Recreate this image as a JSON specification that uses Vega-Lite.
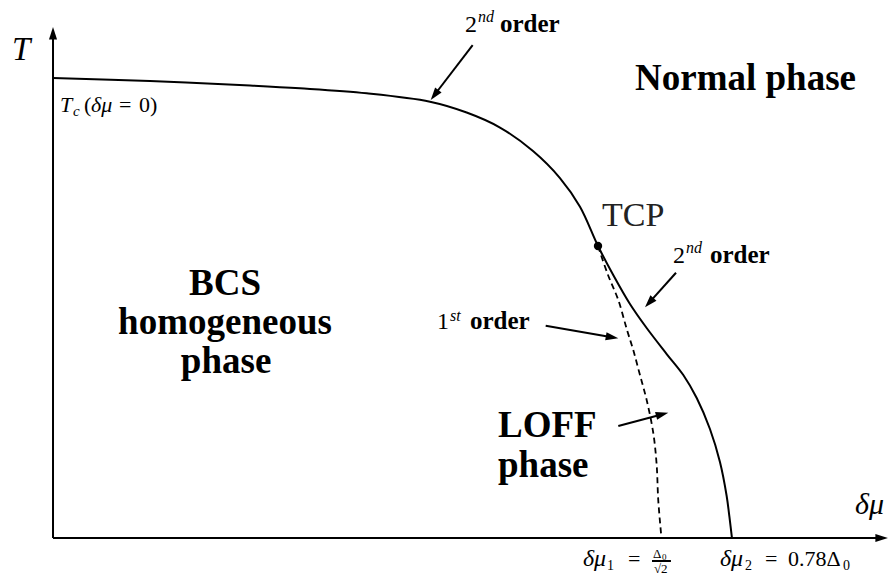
{
  "$schema": "https://vega.github.io/schema/vega-lite/v6.json",
  "width": 889,
  "height": 579,
  "padding": 0,
  "autosize": {"type": "fit", "contains": "padding"},
  "background": "white",
  "config": {"view": {"stroke": null}, "mark": {"clip": false}},
  "datasets": {
    "solid": [
      {"x": 0, "y": 1.0}, {"x": 0.1114, "y": 0.9935}, {"x": 0.2263, "y": 0.9837}, {"x": 0.2837, "y": 0.9776},
      {"x": 0.3604, "y": 0.9667}, {"x": 0.4331, "y": 0.9485}, {"x": 0.4752, "y": 0.925}, {"x": 0.5135, "y": 0.8924},
      {"x": 0.5514, "y": 0.8413}, {"x": 0.5824, "y": 0.7826}, {"x": 0.6054, "y": 0.7202},
      {"x": 0.6261, "y": 0.6348}, {"x": 0.6436, "y": 0.5717}, {"x": 0.6628, "y": 0.5087}, {"x": 0.682, "y": 0.4565},
      {"x": 0.705, "y": 0.4}, {"x": 0.7241, "y": 0.3543}, {"x": 0.7395, "y": 0.3043}, {"x": 0.7547, "y": 0.237},
      {"x": 0.7662, "y": 0.1652}, {"x": 0.7739, "y": 0.0913}, {"x": 0.7771, "y": 0.0457}, {"x": 0.78, "y": 0}
    ],
    "dashed": [
      {"x": 0.6261, "y": 0.6348}, {"x": 0.6376, "y": 0.5717}, {"x": 0.6494, "y": 0.5174}, {"x": 0.6594, "y": 0.4522},
      {"x": 0.6666, "y": 0.4087}, {"x": 0.6743, "y": 0.3543}, {"x": 0.682, "y": 0.3}, {"x": 0.6896, "y": 0.2283},
      {"x": 0.6935, "y": 0.1587}, {"x": 0.6953, "y": 0.0826}, {"x": 0.699, "y": 0}
    ],
    "tcp": [{"x": 0.6261, "y": 0.6348}],
    "shafts": [
      {"x": 0, "y": 0, "x2": 0, "y2": 1.0978},
      {"x": 0, "y": 0, "x2": 0.9523, "y2": 0},
      {"x": 0.4821, "y": 1.0717, "x2": 0.4373, "y2": 0.9609},
      {"x": 0.7157, "y": 0.5767, "x2": 0.6839, "y2": 0.5096},
      {"x": 0.566, "y": 0.4615, "x2": 0.6438, "y2": 0.4361},
      {"x": 0.6494, "y": 0.2435, "x2": 0.7013, "y2": 0.2696},
      {"x": 0.6881, "y": -0.05, "x2": 0.7099, "y2": -0.05}
    ],
    "headY": [{"x": 0, "y": 1.1109}],
    "headX": [{"x": 0.9592, "y": 0}],
    "headA1": [{"x": 0.4339, "y": 0.9522}],
    "headA2": [{"x": 0.6801, "y": 0.5015}],
    "headA3": [{"x": 0.6494, "y": 0.4341}],
    "headA4": [{"x": 0.7068, "y": 0.2724}],
    "boldLeft": [
      {"x": 0.6686, "y": 0.9739, "text": "Normal phase"},
      {"x": 0.5112, "y": 0.2196, "text": "LOFF"},
      {"x": 0.5112, "y": 0.1326, "text": "phase"}
    ],
    "boldCenter": [
      {"x": 0.1976, "y": 0.5283, "text": "BCS"},
      {"x": 0.1976, "y": 0.4435, "text": "homogeneous"},
      {"x": 0.1988, "y": 0.3587, "text": "phase"}
    ],
    "order": [
      {"x": 0.5135, "y": 1.1, "text": "order"},
      {"x": 0.7547, "y": 0.5978, "text": "order"},
      {"x": 0.479, "y": 0.4543, "text": "order"}
    ],
    "digits": [
      {"x": 0.4733, "y": 1.1, "text": "2"},
      {"x": 0.7122, "y": 0.5978, "text": "2"},
      {"x": 0.4411, "y": 0.4543, "text": "1"}
    ],
    "sups": [
      {"x": 0.4882, "y": 1.1217, "text": "nd"},
      {"x": 0.7272, "y": 0.6196, "text": "nd"},
      {"x": 0.4561, "y": 0.4717, "text": "st"}
    ],
    "tcpLabel": [{"x": 0.6307, "y": 0.6783, "text": "TCP"}],
    "bigItalic": [{"x": -0.0471, "y": 1.0391, "text": "T"}],
    "muItalic": [{"x": 0.9213, "y": 0.052, "text": "δμ"}],
    "math": [
      {"x": 0.0356, "y": 0.9261, "text": "("},
      {"x": 0.0758, "y": 0.9261, "text": "="},
      {"x": 0.0988, "y": 0.9261, "text": "0)"},
      {"x": 0.6605, "y": -0.0609, "text": "="},
      {"x": 0.8179, "y": -0.0609, "text": "="},
      {"x": 0.8443, "y": -0.0609, "text": "0.78Δ"}
    ],
    "mathItalic": [
      {"x": 0.008, "y": 0.9261, "text": "T"},
      {"x": 0.0437, "y": 0.9261, "text": "δμ"}
    ],
    "bottomItalic": [
      {"x": 0.6088, "y": -0.0609, "text": "δμ"},
      {"x": 0.7662, "y": -0.0609, "text": "δμ"}
    ],
    "subs": [
      {"x": 0.6364, "y": -0.0696, "text": "1"},
      {"x": 0.7949, "y": -0.0696, "text": "2"},
      {"x": 0.9076, "y": -0.0696, "text": "0"}
    ],
    "subItalic": [{"x": 0.023, "y": 0.9174, "text": "c"}],
    "frac": [
      {"x": 0.6892, "y": -0.0435, "text": "Δ"},
      {"x": 0.6904, "y": -0.0761, "text": "√2"}
    ],
    "fracSub": [{"x": 0.6996, "y": -0.0478, "text": "0"}]
  },
  "encoding": {
    "x": {"field": "x", "type": "quantitative", "scale": {"domain": [-0.0609, 0.9604], "nice": false, "zero": false}, "axis": null},
    "y": {"field": "y", "type": "quantitative", "scale": {"domain": [-0.0891, 1.1696], "nice": false, "zero": false}, "axis": null}
  },
  "layer": [
    {"data": {"name": "shafts"}, "mark": {"type": "rule", "color": "black", "strokeWidth": 2}, "encoding": {"x2": {"field": "x2"}, "y2": {"field": "y2"}}},
    {"data": {"name": "solid"}, "mark": {"type": "line", "color": "black", "strokeWidth": 2, "interpolate": "catmull-rom"}, "encoding": {}},
    {"data": {"name": "dashed"}, "mark": {"type": "line", "color": "black", "strokeWidth": 1.8, "strokeDash": [6, 4], "interpolate": "catmull-rom"}, "encoding": {}},
    {"data": {"name": "tcp"}, "mark": {"type": "point", "shape": "circle", "filled": true, "color": "black", "size": 70, "opacity": 1}},
    {"data": {"name": "headY"}, "mark": {"type": "point", "shape": "M0,0L0.45,1.4L-0.45,1.4Z", "filled": true, "color": "black", "size": 324, "opacity": 1, "angle": 0}},
    {"data": {"name": "headX"}, "mark": {"type": "point", "shape": "M0,0L0.45,1.4L-0.45,1.4Z", "filled": true, "color": "black", "size": 324, "opacity": 1, "angle": 90}},
    {"data": {"name": "headA1"}, "mark": {"type": "point", "shape": "M0,0L0.45,1.4L-0.45,1.4Z", "filled": true, "color": "black", "size": 324, "opacity": 1, "angle": 217.4}},
    {"data": {"name": "headA2"}, "mark": {"type": "point", "shape": "M0,0L0.45,1.4L-0.45,1.4Z", "filled": true, "color": "black", "size": 324, "opacity": 1, "angle": 221.9}},
    {"data": {"name": "headA3"}, "mark": {"type": "point", "shape": "M0,0L0.45,1.4L-0.45,1.4Z", "filled": true, "color": "black", "size": 324, "opacity": 1, "angle": 99.8}},
    {"data": {"name": "headA4"}, "mark": {"type": "point", "shape": "M0,0L0.45,1.4L-0.45,1.4Z", "filled": true, "color": "black", "size": 324, "opacity": 1, "angle": 75.1}},
    {"data": {"name": "boldLeft"}, "mark": {"type": "text", "font": "Liberation Serif", "fontSize": 37, "fontWeight": "bold", "align": "left", "baseline": "alphabetic", "color": "black"}, "encoding": {"text": {"field": "text"}}},
    {"data": {"name": "boldCenter"}, "mark": {"type": "text", "font": "Liberation Serif", "fontSize": 37, "fontWeight": "bold", "align": "center", "baseline": "alphabetic", "color": "black"}, "encoding": {"text": {"field": "text"}}},
    {"data": {"name": "order"}, "mark": {"type": "text", "font": "Liberation Serif", "fontSize": 25, "fontWeight": "bold", "align": "left", "baseline": "alphabetic", "color": "black"}, "encoding": {"text": {"field": "text"}}},
    {"data": {"name": "digits"}, "mark": {"type": "text", "font": "Liberation Serif", "fontSize": 24, "align": "left", "baseline": "alphabetic", "color": "black"}, "encoding": {"text": {"field": "text"}}},
    {"data": {"name": "sups"}, "mark": {"type": "text", "font": "Liberation Serif", "fontSize": 16, "fontStyle": "italic", "align": "left", "baseline": "alphabetic", "color": "black"}, "encoding": {"text": {"field": "text"}}},
    {"data": {"name": "tcpLabel"}, "mark": {"type": "text", "font": "Liberation Serif", "fontSize": 34, "align": "left", "baseline": "alphabetic", "color": "#222"}, "encoding": {"text": {"field": "text"}}},
    {"data": {"name": "bigItalic"}, "mark": {"type": "text", "font": "Liberation Serif", "fontSize": 33, "fontStyle": "italic", "align": "left", "baseline": "alphabetic", "color": "black"}, "encoding": {"text": {"field": "text"}}},
    {"data": {"name": "muItalic"}, "mark": {"type": "text", "font": "Liberation Serif", "fontSize": 30, "fontStyle": "italic", "align": "left", "baseline": "alphabetic", "color": "black"}, "encoding": {"text": {"field": "text"}}},
    {"data": {"name": "math"}, "mark": {"type": "text", "font": "Liberation Serif", "fontSize": 22, "align": "left", "baseline": "alphabetic", "color": "black"}, "encoding": {"text": {"field": "text"}}},
    {"data": {"name": "mathItalic"}, "mark": {"type": "text", "font": "Liberation Serif", "fontSize": 22, "fontStyle": "italic", "align": "left", "baseline": "alphabetic", "color": "black"}, "encoding": {"text": {"field": "text"}}},
    {"data": {"name": "bottomItalic"}, "mark": {"type": "text", "font": "Liberation Serif", "fontSize": 24, "fontStyle": "italic", "align": "left", "baseline": "alphabetic", "color": "black"}, "encoding": {"text": {"field": "text"}}},
    {"data": {"name": "subs"}, "mark": {"type": "text", "font": "Liberation Serif", "fontSize": 14, "align": "left", "baseline": "alphabetic", "color": "black"}, "encoding": {"text": {"field": "text"}}},
    {"data": {"name": "subItalic"}, "mark": {"type": "text", "font": "Liberation Serif", "fontSize": 15, "fontStyle": "italic", "align": "left", "baseline": "alphabetic", "color": "black"}, "encoding": {"text": {"field": "text"}}},
    {"data": {"name": "frac"}, "mark": {"type": "text", "font": "Liberation Serif", "fontSize": 13, "align": "left", "baseline": "alphabetic", "color": "black"}, "encoding": {"text": {"field": "text"}}},
    {"data": {"name": "fracSub"}, "mark": {"type": "text", "font": "Liberation Serif", "fontSize": 9, "align": "left", "baseline": "alphabetic", "color": "black"}, "encoding": {"text": {"field": "text"}}}
  ]
}
